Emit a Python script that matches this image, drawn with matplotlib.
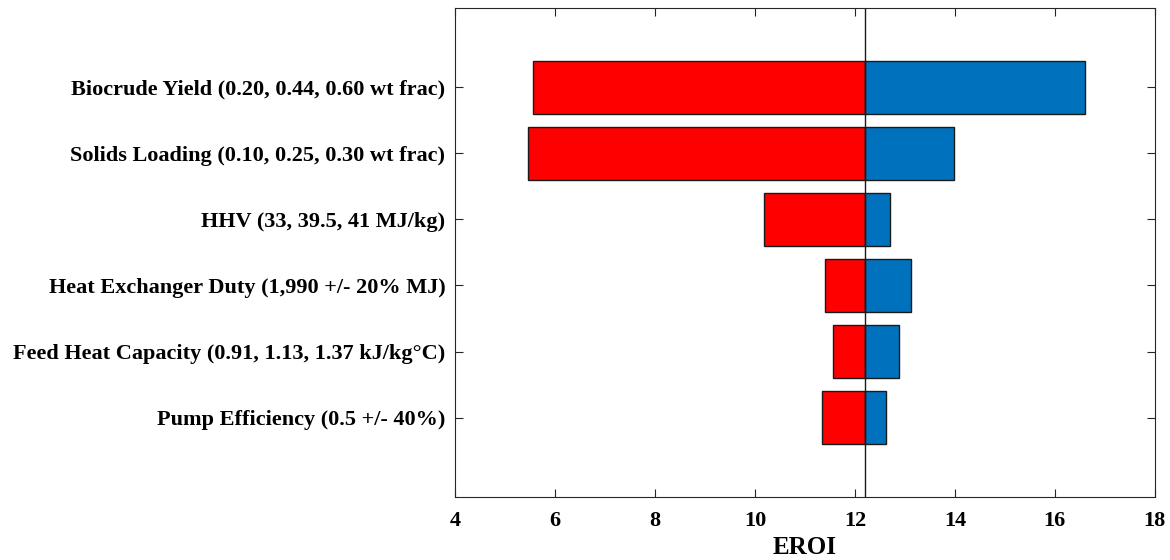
import matplotlib.pyplot as plt
import numpy as np

labels = [
    "Biocrude Yield (0.20, 0.44, 0.60 wt frac)",
    "Solids Loading (0.10, 0.25, 0.30 wt frac)",
    "HHV (33, 39.5, 41 MJ/kg)",
    "Heat Exchanger Duty (1,990 +/- 20% MJ)",
    "Feed Heat Capacity (0.91, 1.13, 1.37 kJ/kg\u00b0C)",
    "Pump Efficiency (0.5 +/- 40%)",
]
base_eroi = 12.2
low_eroi = [5.55, 5.45, 10.18, 11.4, 11.57, 11.35]
high_eroi = [16.6, 13.98, 12.7, 13.13, 12.88, 12.62]

plt.rcParams['font.family'] = ['Liberation Serif', 'DejaVu Serif']
plt.rcParams['font.weight'] = 'bold'

fig = plt.figure(figsize=(11.7, 5.6), dpi=100)
ax = fig.add_axes([0.389, 0.1125, 0.598, 0.8735])

pos = np.arange(1, len(labels) + 1)
low = np.array(low_eroi)
high = np.array(high_eroi)
ax.barh(pos, low - base_eroi, left=base_eroi, height=0.8,
        color='#ff0000', edgecolor='#1a1a1a', linewidth=1)
ax.barh(pos, high - base_eroi, left=base_eroi, height=0.8,
        color='#0072bd', edgecolor='#1a1a1a', linewidth=1)
ax.axvline(base_eroi, color='#1a1a1a', linewidth=1)

ax.set_xlim(4, 18)
ax.set_ylim(7.2, -0.2)
ax.set_xticks(np.arange(4, 19, 2))
ax.set_yticks(pos)
ax.set_yticklabels(labels)
ax.tick_params(axis='both', direction='in', length=6, top=True, right=True,
               color='#262626')
ax.tick_params(axis='y', labelsize=16, pad=7)
ax.tick_params(axis='x', labelsize=16, pad=10)
for s in ax.spines.values():
    s.set_color('#262626')
ax.set_xlabel('EROI', fontsize=18, fontweight='bold', labelpad=4)

fig.savefig('out.png', dpi=100)
